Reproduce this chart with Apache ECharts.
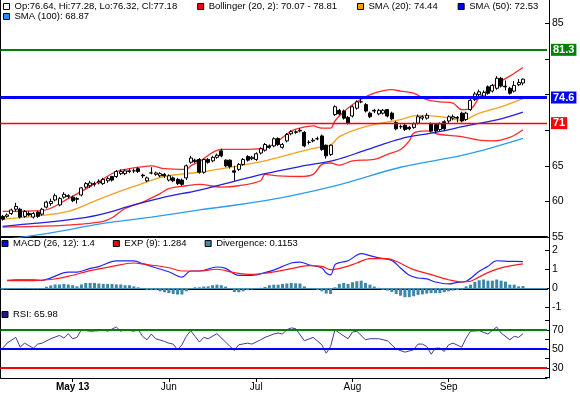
<!DOCTYPE html>
<html><head><meta charset="utf-8">
<script src="https://cdn.jsdelivr.net/npm/echarts@6/dist/echarts.min.js"></script>
<style>html,body{margin:0;padding:0;background:#fff}#c{width:580px;height:393px}</style>
</head><body><div id="c"></div>
<script>
// ---------- data ----------
const opens  = [57.9,57.9,58.3,58.9,58.9,57.9,58.3,57.8,58.5,58.2,59.2,59.7,60.2,59.5,60.6,60.8,60.6,60.4,60.9,62.0,
62.2,62.4,62.6,62.5,62.9,63.5,63.5,63.9,63.9,64.2,64.3,64.6,63.7,62.9,64.0,63.8,63.6,63.8,63.0,63.3,
63.1,63.0,63.3,65.5,65.8,65.9,64.1,65.9,65.7,66.2,67.1,65.8,65.8,64.3,64.5,65.2,66.3,66.0,65.9,66.8,
67.2,67.8,67.8,68.85,67.6,68.5,69.5,69.7,70.0,69.7,68.3,68.5,68.8,69.2,67.9,66.6,72.2,72.8,72.7,71.8,
72.0,73.1,74.0,73.6,72.4,72.8,72.3,72.4,72.9,72.4,71.1,70.5,70.7,70.4,70.4,71.0,71.7,71.7,70.9,70.8,
70.1,71.2,71.3,71.7,71.8,72.4,71.5,72.9,74.3,75.0,74.8,76.1,75.5,75.9,77.3,76.2,75.9,75.5,76.4,76.64];
const closes = [57.5,58.1,58.8,59.3,57.8,58.6,58.1,58.3,57.9,58.9,59.9,60.0,60.8,60.4,61.0,60.7,60.1,60.3,61.9,62.5,
62.6,62.5,62.8,63.1,63.2,63.0,64.2,64.2,64.3,64.3,64.3,64.2,63.6,63.3,64.0,64.0,63.9,63.6,63.6,62.9,
62.5,62.4,65.0,66.1,65.6,64.1,65.9,65.5,66.2,66.5,66.4,65.0,64.9,64.1,65.2,65.9,65.8,66.2,66.7,67.4,
68.0,67.6,68.8,68.0,68.0,69.4,69.8,69.8,69.9,67.8,68.3,68.6,68.8,67.3,66.4,67.9,73.3,72.3,71.7,71.0,
73.3,74.0,74.0,72.7,71.9,72.7,72.8,72.8,72.0,71.6,70.2,70.5,70.1,70.2,70.9,71.9,71.9,72.1,69.9,69.9,
70.9,70.2,71.9,71.9,71.7,71.3,72.4,74.2,75.1,75.4,75.3,75.2,76.3,77.3,76.2,76.1,75.2,76.3,76.7,77.18];
const lows   = [57.3,57.7,58.1,58.6,57.6,57.7,57.9,57.6,57.7,58.0,59.0,59.4,60.0,59.3,60.4,60.4,59.9,59.7,60.7,61.8,
61.9,62.1,62.4,62.3,62.6,62.8,63.3,63.7,63.7,64.0,64.0,64.0,63.3,62.7,63.8,63.6,63.4,63.3,62.8,62.7,
62.3,62.2,63.0,65.3,65.4,63.9,63.9,65.3,65.5,66.0,66.2,64.8,64.6,62.9,64.3,65.0,65.6,65.8,65.7,66.6,
67.0,67.4,67.6,67.8,67.4,68.3,69.3,69.5,69.7,67.6,68.0,68.3,68.6,67.1,66.0,66.4,72.0,72.1,71.5,70.8,
71.8,72.9,73.8,72.5,71.7,72.4,72.1,72.2,71.8,71.4,70.0,70.2,69.9,70.0,70.2,70.8,71.4,71.5,69.7,69.6,
69.9,69.9,71.0,71.4,71.1,71.1,71.3,72.7,74.1,74.8,74.6,75.0,75.3,75.7,76.0,75.6,75.0,75.3,76.2,76.32];
const highs  = [58.1,58.3,59.0,59.8,59.1,58.8,58.6,58.5,58.7,59.1,60.1,60.4,61.1,60.6,61.3,61.0,60.8,60.6,62.0,62.7,
62.9,62.8,63.1,63.3,63.5,63.6,64.4,64.5,64.5,64.6,64.6,64.8,63.9,63.5,64.8,64.2,64.1,64.0,63.8,63.5,
63.3,63.2,65.2,66.4,66.0,66.1,66.0,66.1,66.4,66.7,67.4,65.9,65.9,65.0,65.4,66.1,66.5,66.4,66.9,67.6,
68.2,68.0,69.0,69.0,68.2,69.6,70.0,70.0,70.3,69.9,68.6,68.9,69.1,69.4,68.0,68.0,73.5,73.0,72.9,72.0,
73.5,74.2,74.4,73.8,72.6,73.0,73.0,73.0,73.0,72.6,71.3,70.8,70.9,70.6,71.1,72.2,72.1,72.4,71.1,71.0,
71.1,71.4,72.1,72.2,72.0,72.6,72.6,74.4,75.4,75.7,75.6,76.3,76.5,77.6,77.5,77.0,76.1,76.9,77.2,77.28];

// indicator lines: [candle index, value]
const bbUpper = [[0,58.6],[9,58.7],[15,60.4],[22,62.8],[26,64.2],[30,64.7],[34,65.0],[37,64.6],[42,64.5],[43,65.0],[45,65.6],
[50,67.3],[54,67.3],[60,67.5],[63,68.5],[66,69.9],[68,70.3],[71,70.6],[73,70.3],[75,70.3],[76,71.3],[78,72.6],[81,74.0],
[85,75.2],[89,75.7],[91,75.5],[94,75.2],[97,74.3],[100,74.0],[103,73.8],[105,72.9],[107,73.0],[109,74.6],[111,75.7],[114,76.9],[116,77.6],[119,78.81]];
const bbLower = [[0,56.4],[13,56.6],[18,56.8],[23,57.2],[25,57.7],[28,59.0],[32,59.9],[36,61.1],[38,61.8],[42,62.2],[45,62.4],
[50,62.0],[54,62.2],[59,62.9],[60,63.8],[63,63.6],[68,63.5],[71,63.8],[73,65.2],[75,65.4],[77,65.1],[80,65.7],[85,65.9],
[88,66.6],[91,67.3],[93,68.5],[94,69.6],[97,69.9],[100,69.4],[105,69.1],[109,68.6],[112,68.5],[116,69.0],[119,70.07]];
const sma20 = [[0,57.5],[7,57.9],[15,58.6],[22,60.3],[30,62.1],[37,63.5],[45,64.1],[53,64.9],[60,65.7],[68,67.0],[73,67.7],
[75,67.9],[77,69.1],[83,70.5],[91,71.5],[95,72.1],[100,71.9],[105,71.4],[109,72.4],[114,73.3],[119,74.44]];
const sma50 = [[0,56.5],[15,57.4],[22,58.1],[30,59.5],[37,60.6],[45,61.6],[60,63.9],[68,64.9],[76,65.8],[83,67.2],[91,68.8],
[99,69.7],[106,70.6],[114,71.6],[119,72.53]];
const sma100 = [[0,54.6],[12,55.7],[22,56.8],[34,57.8],[45,58.8],[60,60.1],[76,62.2],[91,64.8],[106,66.6],[119,68.87]];

const macd = [[1,0.42],[3,0.44],[7,0.44],[9,0.42],[11,0.55],[15,0.85],[17,0.85],[20,1.05],[22,1.14],[26,1.44],[30,1.44],
[32,1.3],[35,1.08],[38,0.87],[41,0.59],[43,0.91],[45,0.91],[49,1.12],[51,1.05],[54,0.68],[57,0.68],[60,0.82],[63,1.05],
[66,1.33],[68,1.38],[70,1.24],[73,1.07],[74,0.8],[75,0.71],[76,1.24],[77,1.35],[79,1.45],[82,1.82],[84,1.72],[86,1.6],
[89,1.47],[91,1.07],[93,0.68],[95,0.54],[97,0.49],[99,0.33],[102,0.23],[104,0.31],[106,0.37],[109,0.89],[111,1.16],
[113,1.45],[116,1.42],[119,1.4]];
const expSignal = [[1,0.4],[7,0.4],[11,0.46],[15,0.63],[20,0.93],[25,1.15],[30,1.33],[32,1.28],[38,1.08],[41,0.91],[45,0.91],
[49,1.0],[53,0.82],[57,0.73],[60,0.79],[66,1.03],[70,1.19],[73,1.15],[75,0.98],[78,1.1],[81,1.33],[84,1.56],[88,1.56],
[90,1.42],[94,0.98],[98,0.72],[102,0.45],[105,0.33],[107,0.37],[110,0.72],[114,1.07],[119,1.284]];
const divergence = [-0.08,-0.06,-0.03,0.01,0,0.02,-0.02,-0.05,-0.05,-0.01,0.08,0.15,0.2,0.2,0.23,0.2,0.16,0.1,0.2,0.28,
0.28,0.28,0.25,0.23,0.23,0.23,0.2,0.2,0.16,0.16,0.1,0.05,0,-0.1,-0.1,-0.1,-0.16,-0.21,-0.25,-0.3,
-0.33,-0.33,-0.16,0,0.05,0.05,0.09,0.1,0.16,0.19,0.16,0.09,-0.02,-0.2,-0.21,-0.16,-0.1,-0.07,-0.03,0.02,
0.07,0.16,0.19,0.19,0.23,0.25,0.28,0.26,0.25,0.1,0,-0.05,-0.09,-0.16,-0.28,-0.3,0.05,0.23,0.28,0.23,
0.32,0.37,0.4,0.28,0.19,0.09,0.02,-0.09,-0.12,-0.2,-0.3,-0.39,-0.47,-0.47,-0.42,-0.35,-0.32,-0.28,-0.26,-0.26,
-0.25,-0.21,-0.16,-0.12,-0.09,-0.07,0.1,0.19,0.33,0.42,0.46,0.4,0.4,0.46,0.4,0.35,0.19,0.19,0.1,0.1153];
const rsi = [[0,50.9],[1,56.1],[3,62.1],[4,51.9],[5,56.1],[7,50.9],[8,55.1],[9,56.1],[11,60.7],[13,64.2],[14,61.4],[15,66.0],
[16,60.7],[17,62.1],[18,70.2],[20,68.5],[22,69.1],[23,70.2],[24,68.5],[26,73.0],[27,68.5],[28,70.2],[30,68.5],[31,70.2],
[32,63.2],[33,59.6],[34,65.6],[35,60.7],[37,57.9],[38,56.1],[39,55.1],[40,49.2],[41,54.4],[42,63.2],[43,69.1],[44,63.2],
[45,57.2],[46,62.1],[47,60.7],[49,66.0],[51,57.2],[52,52.6],[53,48.5],[54,54.4],[56,56.1],[57,55.1],[59,59.6],[60,62.1],
[62,65.6],[63,66.7],[64,65.6],[65,70.2],[66,72.0],[67,71.3],[69,58.6],[71,62.1],[73,54.4],[74,45.6],[75,52.6],[76,70.2],
[77,66.7],[79,60.7],[80,67.7],[81,68.5],[83,59.6],[84,60.7],[86,60.7],[88,58.6],[90,49.9],[92,46.7],[94,49.2],[95,55.1],
[96,55.1],[97,52.6],[98,44.5],[99,50.9],[100,50.9],[101,47.4],[102,54.4],[103,56.1],[105,51.9],[106,61.4],[107,68.5],
[109,69.1],[111,65.6],[113,73.0],[114,66.7],[116,59.6],[117,63.2],[118,62.1],[119,65.98]];

const priceLevels = [81.3, 74.6, 71];
const rsiLevels = [70, 50, 30];
const mainTickValues = [55, 60, 65, 70, 75, 80, 85];
const mainLabelValues = [55, 60, 65, 85];
const macdTickValues = [-1, 0, 1, 2];
const rsiTickValues = [20, 30, 40, 50, 60, 70, 80];
const rsiLabelValues = [30, 50, 70];
const monthNames = ['Jan','Feb','Mar','Apr','May','Jun','Jul','Aug','Sep','Oct','Nov','Dec'];
const holidays = ['2013-05-27', '2013-07-04', '2013-09-02'];

// trading-day categories (Apr 9 2013 onward) plus a few empty slots at the right
const dates = [];
(function () {
  const d = new Date(Date.UTC(2013, 3, 9));
  while (dates.length < 125) {
    const wd = d.getUTCDay(), s = d.toISOString().slice(0, 10);
    if (wd !== 0 && wd !== 6 && holidays.indexOf(s) < 0) dates.push(s);
    d.setUTCDate(d.getUTCDate() + 1);
  }
})();
const nData = closes.length;
const isMonthStart = i => i > 0 && i < nData && dates[i].slice(5, 7) !== dates[i - 1].slice(5, 7);
let firstMonth = -1;
for (let i = 0; i < nData; i++) { if (isMonthStart(i)) { firstMonth = i; break; } }

// ---------- styles ----------
const FONT = '"Liberation Sans", Arial, sans-serif';
const levelStyles = [
  { color: '#008000', width: 2 },
  { color: '#0000ff', width: 3 },
  { color: '#ff0000', width: 1.4 }
];
const rsiLevelColors = ['#008000', '#0000ff', '#ff0000'];
const last = a => a[a.length - 1];
const lastV = a => last(a)[1];
const f2 = v => v.toFixed(2);

const legendText = {
  'OHLC': 'Op:' + f2(last(opens)) + ', Hi:' + f2(last(highs)) + ', Lo:' + f2(last(lows)) + ', Cl:' + f2(last(closes)),
  'Bollinger (20, 2)': 'Bollinger (20, 2): ' + f2(lastV(bbLower)) + ' - ' + f2(lastV(bbUpper)),
  'SMA (20)': 'SMA (20): ' + f2(lastV(sma20)),
  'SMA (50)': 'SMA (50): ' + f2(lastV(sma50)),
  'SMA (100)': 'SMA (100): ' + f2(lastV(sma100)),
  'MACD (26, 12)': 'MACD (26, 12): ' + String(lastV(macd)),
  'EXP (9)': 'EXP (9): ' + String(lastV(expSignal)),
  'Divergence': 'Divergence: ' + String(last(divergence)),
  'RSI': 'RSI: ' + f2(lastV(rsi))
};
const legendBase = {
  orient: 'horizontal', icon: 'rect', itemWidth: 6, itemHeight: 6, itemGap: 20, padding: 0,
  selectedMode: false,
  textStyle: { fontFamily: FONT, fontSize: 9.5, color: '#000' },
  formatter: n => legendText[n]
};
const li = (name, color) => ({ name, icon: 'rect', itemStyle: { color, borderColor: '#000', borderWidth: 1 } });

const GL = 0.5, GW = 546.5;
const grids = [
  { left: GL, width: GW, top: 0, height: 237 },
  { left: GL, width: GW, top: 237, height: 71 },
  { left: GL, width: GW, top: 308, height: 70 }
];
const xBase = (gi) => ({
  type: 'category', gridIndex: gi, data: dates, boundaryGap: true,
  axisLine: { show: true, lineStyle: { color: '#000', width: gi === 2 ? 1 : 2 } },
  axisTick: { show: false }, axisLabel: { show: false }, splitLine: { show: false }
});
const xAxes = [xBase(0), xBase(1), xBase(2)];
xAxes[2].axisTick = { show: true, alignWithLabel: true, length: 4, interval: (i) => isMonthStart(i), lineStyle: { color: '#000' } };
xAxes[2].axisLabel = {
  show: true, interval: (i) => isMonthStart(i), margin: 4, fontFamily: FONT, fontSize: 10, color: '#000',
  formatter: (v, i) => {
    const m = monthNames[+v.slice(5, 7) - 1];
    return i === firstMonth ? '{b|' + m + ' ' + v.slice(2, 4) + '}' : m;
  },
  rich: { b: { fontWeight: 'bold', fontFamily: FONT, fontSize: 10, color: '#000' } }
};

const yRight = (gi, min, max, ticks, labels, colorFn) => ({
  type: 'value', gridIndex: gi, position: 'right', offset: 2, min, max, scale: true,
  splitLine: { show: false },
  axisLine: { show: true, lineStyle: { color: '#000', width: 1 } },
  axisTick: { show: true, inside: true, length: 4, customValues: ticks, lineStyle: { color: '#000' } },
  axisLabel: { show: true, customValues: labels, margin: 3, fontFamily: FONT, fontSize: 10.5, color: colorFn || '#000' }
});
const yLeft = (gi) => ({
  type: 'value', gridIndex: gi, position: 'left', min: 0, max: 1,
  axisLine: { show: true, lineStyle: { color: '#000', width: 1 } },
  axisTick: { show: false }, axisLabel: { show: false }, splitLine: { show: false }
});
const yAxes = [
  yRight(0, 55, 55 + 237 / 7.117, mainTickValues, mainLabelValues),
  yRight(1, -1.04, 2.7, macdTickValues, macdTickValues, v => (v === 0 ? '#3f87a6' : '#000')),
  yRight(2, 19.7, 92.8, rsiTickValues, rsiLabelValues, v => rsiLevelColors[rsiLevels.indexOf(v)] || '#000'),
  yLeft(0), yLeft(1), yLeft(2)
];

const lineS = (name, data, color, width, xi, yi, smooth) => ({
  type: 'line', name, data, xAxisIndex: xi, yAxisIndex: yi, showSymbol: false, symbol: 'none',
  smooth: smooth === undefined ? 0.35 : smooth, z: 2, silent: true,
  lineStyle: { color, width }, itemStyle: { color }
});

const option = {
  animation: false,
  grid: grids,
  xAxis: xAxes,
  yAxis: yAxes,
  legend: [
    Object.assign({}, legendBase, { left: 3, top: 1.5, data: [li('OHLC', '#fff'), li('Bollinger (20, 2)', '#ff0000'), li('SMA (20)', '#ff9900'), li('SMA (50)', '#0000ff')] }),
    Object.assign({}, legendBase, { left: 3, top: 11.5, data: [li('SMA (100)', '#1e90ff')] }),
    Object.assign({}, legendBase, { left: 1.5, top: 238.5, itemGap: 18, data: [li('MACD (26, 12)', '#0000ff'), li('EXP (9)', '#ff0000'), li('Divergence', '#3f87a6')] }),
    Object.assign({}, legendBase, { left: 1.5, top: 309.5, data: [li('RSI', '#1a1a80')] })
  ],
  series: [
    {
      type: 'candlestick', name: 'OHLC', xAxisIndex: 0, yAxisIndex: 0, z: 3, barWidth: 3.5,
      data: opens.map((o, i) => [o, closes[i], lows[i], highs[i]]),
      itemStyle: { color: '#ffffff', color0: '#000000', borderColor: '#000000', borderColor0: '#000000', borderWidth: 1 }
    },
    lineS('Bollinger (20, 2)', bbUpper, '#ff2a2a', 1.3, 0, 0),
    lineS('Bollinger (20, 2)', bbLower, '#ff2a2a', 1.3, 0, 0),
    lineS('SMA (20)', sma20, '#f5a020', 1.3, 0, 0),
    lineS('SMA (50)', sma50, '#2020e0', 1.3, 0, 0),
    Object.assign(lineS('SMA (100)', sma100, '#2c9cf0', 1.3, 0, 0), {
      markLine: {
        silent: true, symbol: ['none', 'none'],
        data: priceLevels.map((v, k) => ({
          yAxis: v,
          lineStyle: { color: levelStyles[k].color, width: levelStyles[k].width, type: 'solid', opacity: 1 },
          label: {
            show: true, position: 'end', distance: 4, formatter: String(v),
            backgroundColor: levelStyles[k].color, color: '#fff', fontWeight: 'bold',
            fontFamily: FONT, fontSize: 11, padding: [1, 2, 0, 2]
          }
        }))
      }
    }),
    lineS('MACD (26, 12)', macd, '#2424ff', 1.2, 1, 1),
    lineS('EXP (9)', expSignal, '#ff1a1a', 1.2, 1, 1),
    {
      type: 'bar', name: 'Divergence', xAxisIndex: 1, yAxisIndex: 1, data: divergence, barWidth: 3,
      itemStyle: { color: '#3f87a6' }, silent: true,
      markLine: { silent: true, symbol: ['none', 'none'], label: { show: false },
        data: [{ yAxis: 0, lineStyle: { color: '#4a90b4', width: 1, type: 'solid' } }] }
    },
    Object.assign(lineS('RSI', rsi, '#3a3a9a', 1, 2, 2, false), {
      markLine: { silent: true, symbol: ['none', 'none'], label: { show: false },
        data: rsiLevels.map((v, k) => ({ yAxis: v, lineStyle: { color: rsiLevelColors[k], width: 2, type: 'solid' } })) }
    })
  ]
};
const chart = echarts.init(document.getElementById('c'), null, { renderer: 'canvas' });
chart.setOption(option);
</script></body></html>
